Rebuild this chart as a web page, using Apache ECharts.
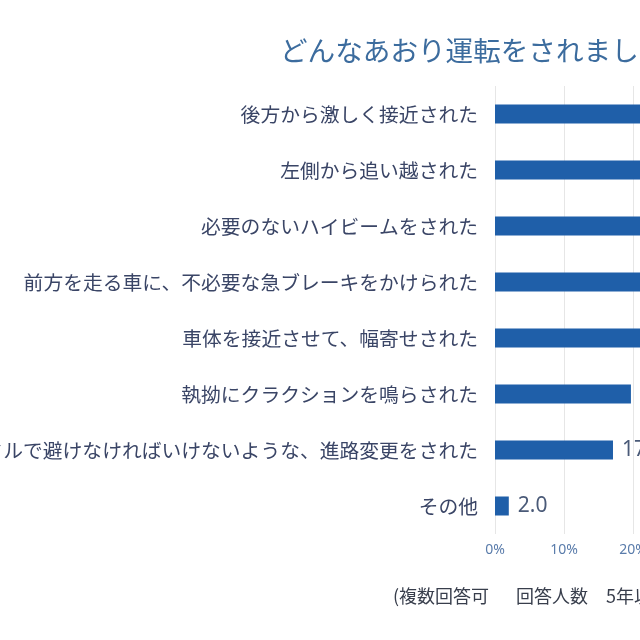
<!DOCTYPE html>
<html>
<head>
<meta charset="utf-8">
<script src="https://cdn.jsdelivr.net/npm/echarts@6/dist/echarts.min.js"></script>
<style>
html,body{margin:0;padding:0;overflow:hidden;background:#fff;width:640px;height:640px;}
#main{width:1240px;height:640px;}
</style>
</head>
<body>
<div id="main"></div>
<script>
const categories = [
  "後方から激しく接近された",
  "左側から追い越された",
  "必要のないハイビームをされた",
  "前方を走る車に、不必要な急ブレーキをかけられた",
  "車体を接近させて、幅寄せされた",
  "執拗にクラクションを鳴らされた",
  "ハンドルで避けなければいけないような、進路変更をされた",
  "その他"
];
const values = [81.7, 28.1, 25.3, 23.4, 21.6, 19.7, 17.1, 2.0];
const tickLabels = ["0%","10%","20%","30%","40%","50%","60%","70%","80%","90%","100%"];
const titleText = "どんなあおり運転をされましたか？";
const noteText = "(複数回答可　\u2002回答人数　5年以内にあおり運転をされたことがある人)";

const chart = echarts.init(document.getElementById('main'), null, {renderer:'canvas'});
chart.setOption({
  animation: false,
  backgroundColor: '#ffffff',
  title: [
    {text: titleText, left: 275, top: 32,
     textStyle: {fontFamily: 'Noto Sans CJK JP', fontSize: 27.6, fontWeight: 'normal', color: '#3c6c9e'}},
    {text: noteText, left: 388, top: 582,
     textStyle: {fontFamily: 'Noto Sans CJK JP', fontSize: 18, fontWeight: 'normal', color: '#383e4c'}}
  ],
  grid: {left: 495, top: 86, width: 690, height: 448, containLabel: false, outerBoundsMode: 'none'},
  xAxis: {
    type: 'value', min: 0, max: 100, interval: 10,
    axisLine: {show: false}, axisTick: {show: false},
    splitLine: {show: true, lineStyle: {color: '#e6e6e6', width: 1}},
    axisLabel: {
      margin: 9, fontSize: 14, color: '#5a7cab', fontFamily: 'Noto Sans',
      formatter: function(v){ return tickLabels[Math.round(v/10)]; }
    }
  },
  yAxis: {
    type: 'category', data: categories, inverse: true,
    axisLine: {show: false}, axisTick: {show: false},
    axisLabel: {margin: 17, fontSize: 19.8, color: '#3a4566', fontFamily: 'Noto Sans CJK JP'}
  },
  series: [{
    type: 'bar', data: values, barWidth: 19,
    itemStyle: {color: '#1f5fa9'},
    label: {show: true, position: 'right', distance: 9, fontSize: 21, color: '#4a5a78',
      fontFamily: 'Noto Sans', formatter: function(p){ return p.value.toFixed(1); }}
  }]
});
</script>
</body>
</html>
